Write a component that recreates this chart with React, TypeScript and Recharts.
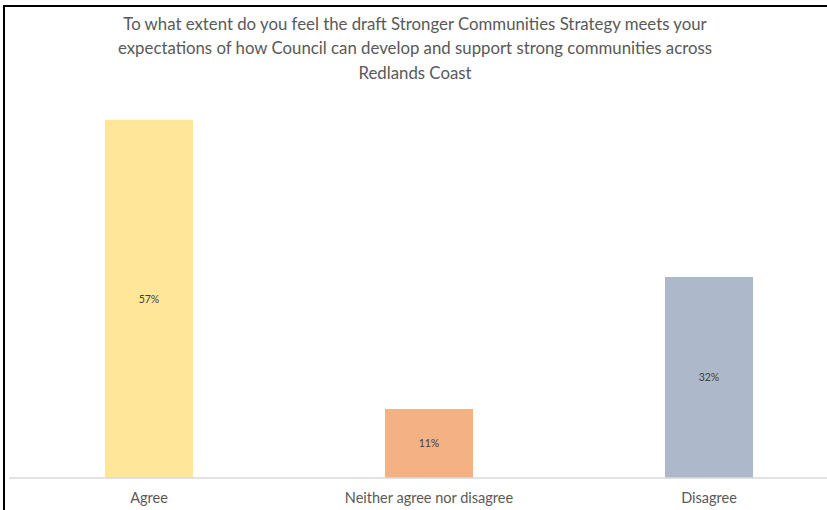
import React from 'react'
import { BarChart, Bar, XAxis, YAxis, Cell, LabelList } from 'recharts'

const categories = ['Agree', 'Neither agree nor disagree', 'Disagree']
const shares = [57, 11, 32]
const barColors = ['#FFE699', '#F4B183', '#ADB9CA']
const titleLines = [
  'To what extent do you feel the draft Stronger Communities Strategy meets your',
  'expectations of how Council can develop and support strong communities across',
  'Redlands Coast',
]

const data = categories.map((name, i) => ({ name, value: shares[i] }))

const font = 'Lato, "Open Sans", sans-serif'

export default function App() {
  return (
    <div
      style={{
        position: 'fixed',
        left: 0,
        top: 0,
        width: 827,
        height: 510,
        overflow: 'hidden',
        background: '#fff',
        fontFamily: font,
      }}
    >
      <div
        style={{
          position: 'absolute',
          left: 3,
          top: 5,
          width: 830,
          height: 510,
          borderTop: '2px solid #000',
          borderLeft: '2px solid #000',
        }}
      />
      <div
        style={{
          position: 'absolute',
          left: 0,
          top: 12,
          width: 830,
          textAlign: 'center',
          color: '#595959',
          fontSize: 16.8,
          lineHeight: '24.3px',
        }}
      >
        {titleLines.map((t) => (
          <div key={t}>{t}</div>
        ))}
      </div>
      <div style={{ position: 'absolute', left: 0, top: 0 }}>
        <BarChart
          width={860}
          height={510}
          data={data}
          margin={{ top: 101, right: 11, left: 9, bottom: 0 }}
          barSize={88}
        >
          <XAxis
            dataKey="name"
            height={32}
            axisLine={{ stroke: '#D9D9D9', strokeWidth: 1.5 }}
            tickLine={false}
            tickMargin={9}
            tick={{ fill: '#595959', fontSize: 14.5, fontFamily: font }}
            interval={0}
          />
          <YAxis hide domain={[0, 60]} />
          <Bar dataKey="value" isAnimationActive={false}>
            {data.map((d, i) => (
              <Cell key={d.name} fill={barColors[i]} />
            ))}
            <LabelList
              dataKey="value"
              position="center"
              formatter={(v: unknown) => `${v}%`}
              style={{ fill: '#404040', fontSize: 10.5, fontFamily: font }}
            />
          </Bar>
        </BarChart>
      </div>
    </div>
  )
}
